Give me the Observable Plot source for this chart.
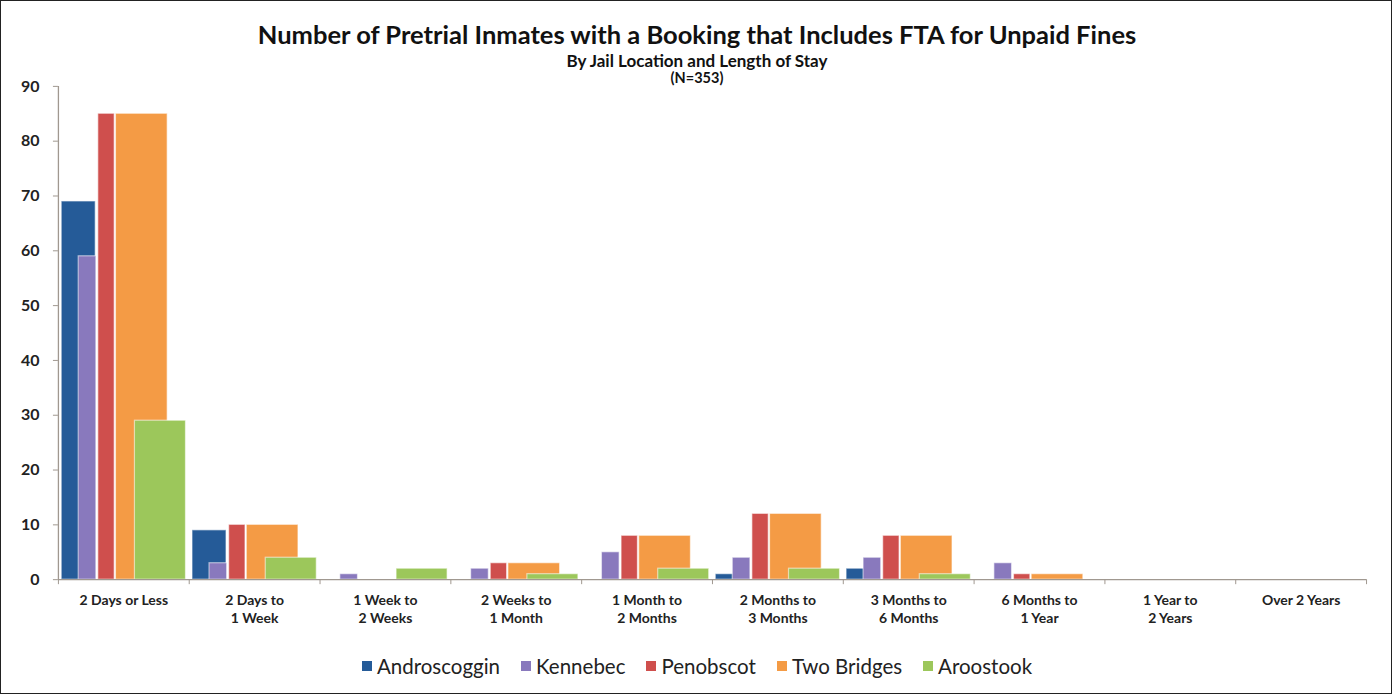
<!DOCTYPE html>
<html>
<head>
<meta charset="utf-8">
<script src="https://cdn.jsdelivr.net/npm/d3@7"></script>
<script src="https://cdn.jsdelivr.net/npm/@observablehq/plot@0.6"></script>
<style>
  html, body { margin: 0; padding: 0; background: #fff; }
  #wrap { position: relative; width: 1392px; height: 694px; box-sizing: border-box; border: 1.5px solid #222; overflow: hidden; font-family: Lato, "Open Sans", sans-serif; }
  .t { position: absolute; left: 0; width: 1392px; text-align: center; font-weight: 700; color: #111; line-height: 1; }
  #title { top: 21px; font-size: 25.5px; }
  #sub { top: 51px; font-size: 17px; }
  #n { top: 70px; font-size: 14.5px; }
  #chart { position: absolute; left: 0; top: 0; }
  #legend { position: absolute; left: 0; width: 1392px; top: 653px; display: flex; justify-content: center; gap: 21px; font-size: 20.5px; line-height: 24px; color: #222; }
  #legend span.item { display: inline-flex; align-items: center; }
  #legend span.sw { display: inline-block; width: 10px; height: 10px; margin-right: 5px; }
</style>
</head>
<body>
<div id="wrap">
  <div id="chart"></div>
  <div id="title" class="t">Number of Pretrial Inmates with a Booking that Includes FTA for Unpaid Fines</div>
  <div id="sub" class="t">By Jail Location and Length of Stay</div>
  <div id="n" class="t">(N=353)</div>
  <div id="legend"></div>
</div>
<script>
// ---- data ----
const categories = ["2 Days or Less", "2 Days to 1 Week", "1 Week to 2 Weeks", "2 Weeks to 1 Month",
  "1 Month to 2 Months", "2 Months to 3 Months", "3 Months to 6 Months", "6 Months to 1 Year",
  "1 Year to 2 Years", "Over 2 Years"];
const seriesNames = ["Androscoggin", "Kennebec", "Penobscot", "Two Bridges", "Aroostook"];
const androscoggin = [69, 9, 0, 0, 0, 1, 2, 0, 0, 0];
const kennebec     = [59, 3, 1, 2, 5, 4, 4, 3, 0, 0];
const penobscot    = [85, 10, 0, 3, 8, 12, 8, 1, 0, 0];
const twoBridges   = [85, 10, 0, 3, 8, 12, 8, 1, 0, 0];
const aroostook    = [29, 4, 2, 1, 2, 2, 1, 0, 0, 0];
const yTicks = [0, 10, 20, 30, 40, 50, 60, 70, 80, 90];

// ---- styling / layout ----
const colors = ["#255b98", "#8979bd", "#cf4f4d", "#f49b45", "#9cc75b"];
// bar extent within each category band (fraction of band), per series
const barSpan = [[0.025, 0.285], [0.155, 0.29], [0.305, 0.43], [0.44, 0.835], [0.585, 0.975]];

const values = [androscoggin, kennebec, penobscot, twoBridges, aroostook];
const rows = [];
values.forEach((arr, s) => arr.forEach((v, i) => {
  if (v > 0) rows.push({series: seriesNames[s], s, i, value: v,
    x1: i + barSpan[s][0], x2: i + barSpan[s][1]});
}));
const labelRows = categories.map((c, i) => ({i, label: c.startsWith("Over") ? c : c.replace(" to ", " to\n")}));

const axisColor = "#a09890";
const chart = Plot.plot({
  width: 1392,
  height: 640,
  marginTop: 85,
  marginBottom: 61,
  marginLeft: 57,
  marginRight: 25,
  x: {type: "linear", domain: [0, categories.length], axis: null},
  y: {type: "linear", domain: [0, 90], axis: null, label: null},
  style: {fontFamily: "Lato, 'Open Sans', sans-serif", background: "transparent"},
  marks: [
    Plot.rect(rows, {x1: "x1", x2: "x2", y1: () => 0, y2: "value",
      fill: d => colors[d.s], stroke: "#ffffff", strokeOpacity: 0.55, strokeWidth: 1.2}),
    Plot.ruleX([0], {stroke: axisColor, strokeWidth: 1.3}),
    Plot.ruleY([0], {stroke: axisColor, strokeWidth: 1.3}),
    Plot.axisY({ticks: yTicks, tickSize: 5, tickPadding: 14, stroke: axisColor, label: null,
      fontSize: 16, fontWeight: "bold", fill: "#222", tickFormat: d => d}),
    Plot.axisX({ticks: d3.range(0, categories.length + 1), tickSize: 5, tickFormat: () => "", stroke: axisColor, label: null}),
    Plot.text(labelRows, {x: d => d.i + 0.5, y: () => 0, text: "label", dy: 12, lineAnchor: "top",
      fontSize: 14, fontWeight: "bold", fill: "#222", lineHeight: 1.3})
  ]
});
document.getElementById("chart").appendChild(chart);

const legend = document.getElementById("legend");
seriesNames.forEach((name, s) => {
  const it = document.createElement("span");
  it.className = "item";
  it.innerHTML = `<span class="sw" style="background:${colors[s]}"></span>${name}`;
  legend.appendChild(it);
});
</script>
</body>
</html>
